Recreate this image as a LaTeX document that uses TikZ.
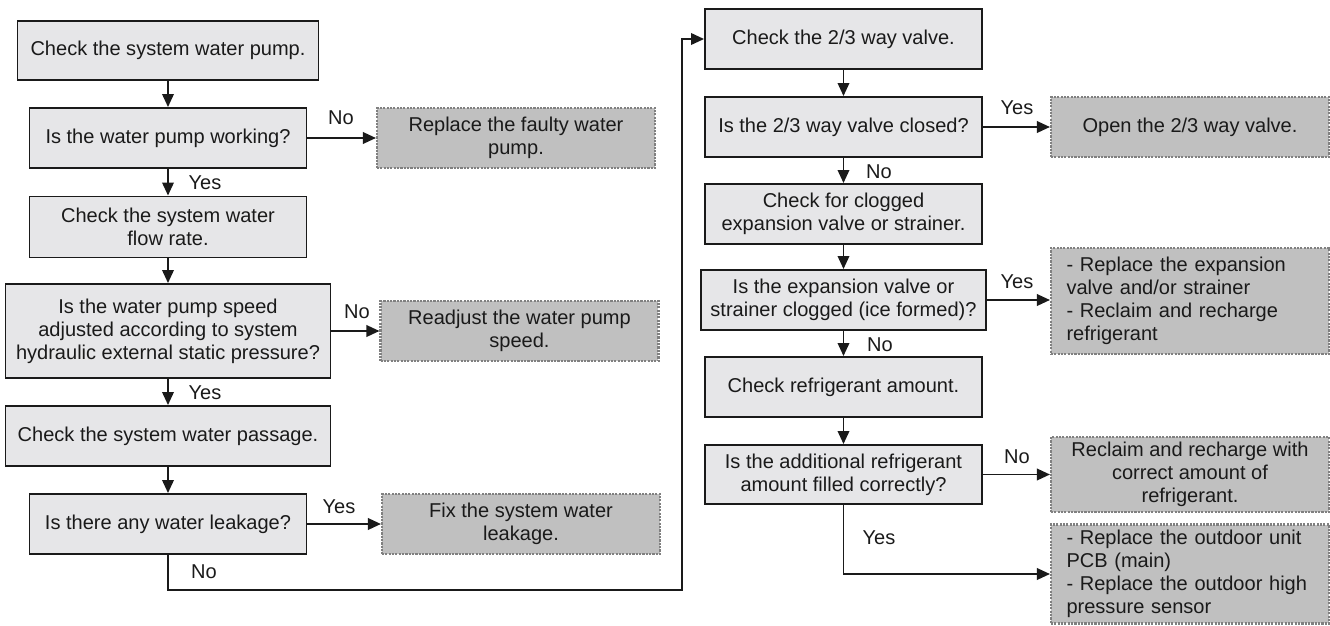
\documentclass[tikz,border=0pt]{standalone}
\usepackage{fontspec}
\setmainfont{Liberation Sans}
\usetikzlibrary{arrows.meta}
\definecolor{stepfill}{HTML}{E6E6E8}
\definecolor{endfill}{HTML}{C0C0C0}
\definecolor{endline}{HTML}{808080}
\definecolor{inkline}{HTML}{1A1A1A}

\begin{document}
\begin{tikzpicture}[x=0.02cm,y=-0.02cm,
  every node/.style={font=\fontsize{11.4}{13.1}\selectfont, text=inkline},
  stepbox/.style={draw=inkline, line width=1.1pt, fill=stepfill, align=center, inner sep=0pt, minimum width=5.54cm, minimum height=1.2cm},
  endbox/.style={draw=endline, line width=1.2pt, dash pattern=on 1.2pt off 0.7pt, fill=endfill, align=center, inner sep=0pt, minimum width=5.56cm, minimum height=1.2cm},
  listbox/.style={endbox, align=left, text width=4.94cm, inner xsep=0.31cm},
  flow/.style={draw=inkline, line width=1.1pt, -{Triangle[length=0.26cm,width=0.23cm]}},
  lbl/.style={inner sep=1pt}]
  \useasboundingbox (0,0) rectangle (1330,626);

  \node[stepbox, minimum width=6.02cm, minimum height=1.18cm] (pump) at (168,50.5) {Check the system water pump.};
  \node[stepbox] (work) at (168,138) {Is the water pump working?};
  \node[stepbox, minimum height=1.22cm] (rate) at (168,227) {Check the system water\\flow rate.};
  \node[stepbox, minimum width=6.5cm, minimum height=1.88cm] (speed) at (168,331) {Is the water pump speed\\adjusted according to system\\hydraulic external static pressure?};
  \node[stepbox, minimum width=6.5cm] (pass) at (168,436) {Check the system water passage.};
  \node[stepbox] (leak) at (168,524) {Is there any water leakage?};

  \node[endbox] (pumpfix) at (516,138) {Replace the faulty water\\pump.};
  \node[endbox] (speedfix) at (519.5,331) {Readjust the water pump\\speed.};
  \node[endbox] (leakfix) at (521,524) {Fix the system water\\leakage.};

  \node[stepbox] (valve) at (843.5,39) {Check the 2/3 way valve.};
  \node[stepbox] (closed) at (843.5,127) {Is the 2/3 way valve closed?};
  \node[stepbox] (clog) at (843.5,214) {Check for clogged\\expansion valve or strainer.};
  \node[stepbox, minimum width=5.7cm] (ice) at (843.5,300) {Is the expansion valve or\\strainer clogged (ice formed)?};
  \node[stepbox] (amount) at (843.5,387) {Check refrigerant amount.};
  \node[stepbox, minimum height=1.18cm] (filled) at (843.5,474.5) {Is the additional refrigerant\\amount filled correctly?};

  \node[endbox] (valvefix) at (1190,127) {Open the 2/3 way valve.};
  \node[listbox, minimum height=2.12cm] (icefix) at (1190,301) {- Replace the expansion\\valve and/or strainer\\- Reclaim and recharge\\refrigerant};
  \node[endbox, minimum height=1.5cm] (gasfix) at (1190,474.5) {Reclaim and recharge with\\correct amount of\\refrigerant.};
  \node[listbox, minimum height=1.98cm] (pcbfix) at (1190,574) {- Replace the outdoor unit\\PCB (main)\\- Replace the outdoor high\\pressure sensor};

  \draw[flow] (pump) -- (work);
  \draw[flow] (work) -- (rate);
  \draw[flow] (rate) -- (speed);
  \draw[flow] (speed) -- (pass);
  \draw[flow] (pass) -- (leak);
  \draw[flow] (work) -- (pumpfix);
  \draw[flow] (speed.east) -- (speedfix.west |- speed.east);
  \draw[flow] (leak) -- (leakfix);
  \coordinate (turn) at (682,590);
  \draw[flow] (leak.south) |- (turn) |- (valve.west);

  \draw[flow] (valve) -- (closed);
  \draw[flow] (closed) -- (clog);
  \draw[flow] (clog) -- (ice);
  \draw[flow] (ice) -- (amount);
  \draw[flow] (amount) -- (filled);
  \draw[flow] (closed) -- (valvefix);
  \draw[flow] (ice.east) -- (icefix.west |- ice.east);
  \draw[flow] (filled) -- (gasfix);
  \draw[flow] (filled.south) |- (pcbfix.west);

  \node[lbl] (no1) at (341,118) {No};
  \node[lbl] (yes1) at (205,183) {Yes};
  \node[lbl] (no2) at (357,312) {No};
  \node[lbl] (yes2) at (205,393) {Yes};
  \node[lbl] (yes3) at (339,507) {Yes};
  \node[lbl] (no3) at (204,572) {No};
  \node[lbl] (yes4) at (1017,108) {Yes};
  \node[lbl] (no4) at (879,172) {No};
  \node[lbl] (yes5) at (1017,282) {Yes};
  \node[lbl] (no5) at (880,345) {No};
  \node[lbl] (no6) at (1017,457) {No};
  \node[lbl] (yes6) at (879,538) {Yes};
\end{tikzpicture}
\end{document}
